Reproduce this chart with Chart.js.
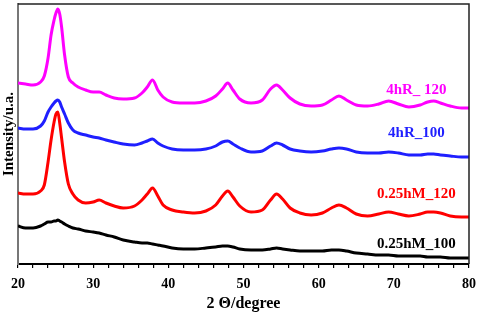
<!DOCTYPE html>
<html>
<head>
<meta charset="utf-8">
<script src="https://cdn.jsdelivr.net/npm/chart.js@4"></script>
<style>
  html, body { margin: 0; padding: 0; background: #fff; }
  #xrd { display: block; }
</style>
</head>
<body>
<canvas id="xrd" width="484" height="315"></canvas>
<script>
// 2-theta positions shared by all four patterns
const twoTheta = [20, 21, 22, 23, 23.5, 24, 24.4, 24.8, 25.05, 25.3, 25.55, 25.8, 26.2, 26.7, 27.3, 28, 29, 30, 30.8, 31.7, 32.8, 34,
  35.5, 36.5, 37.2, 37.9, 38.6, 39.3, 40.5, 42, 43.5, 45, 46.3, 47.2, 47.9, 48.6, 49.5, 51,
  52.5, 53.6, 54.4, 55.2, 56.2, 57.5, 59, 60.5, 61.7, 62.7, 63.7, 65, 66.5, 68, 69.3, 70.6, 72, 73.5, 74.5, 75.3, 76.2, 77.5, 79, 80];

// intensities (arbitrary units, stacked with offsets as in the figure)
const r120 = [181, 180, 179, 182, 188, 206, 229, 244, 251, 255, 250, 237, 209, 187, 181, 177, 174, 172, 172, 169, 166, 165,
  166, 171, 177, 184, 174, 167, 162, 161, 161, 163, 168, 175, 181, 174, 165, 161,
  164, 175, 179, 174, 166, 160, 158, 159, 164, 168, 164, 159, 158, 160, 163, 160, 157, 159, 162, 163, 161, 158, 156, 156];
const r100 = [136, 135, 135, 138, 143, 152, 157, 161, 163, 164, 162, 157, 150, 141, 134, 131, 129, 127, 126, 124, 122, 120,
  119, 121, 123, 125, 121, 118, 115, 114, 114, 115, 118, 122, 123, 120, 116, 112,
  113, 118, 121, 119, 115, 113, 112, 113, 115, 116, 115, 112, 111, 111, 112, 111, 109, 109, 110, 110, 109, 108, 107, 107];
const m120 = [71, 70, 70, 73, 79, 102, 124, 142, 150, 152, 141, 126, 102, 80, 70, 64, 61, 62, 64, 61, 58, 56,
  58, 64, 70, 76, 68, 59, 54, 52, 51, 53, 59, 68, 73, 67, 58, 52,
  54, 64, 70, 65, 56, 51, 49, 51, 56, 59, 56, 50, 48, 50, 52, 50, 48, 50, 52, 52, 51, 48, 47, 47];
const m100 = [38, 36, 36, 38, 40, 42, 42, 43, 43, 44, 43, 42, 40, 38, 36, 35, 33, 32, 31, 29, 27, 24,
  22, 21, 21, 20, 19, 18, 16, 15, 15, 16, 17, 18, 18, 17, 15, 14,
  14, 15, 16, 15, 14, 13, 13, 13, 14, 14, 13, 11, 10, 9, 9, 8, 8, 8, 7, 7, 7, 6, 6, 6];

const seriesNames = ['4hR_ 120', '4hR_100', '0.25hM_120', '0.25hM_100'];
const seriesColors = ['#ff00ff', '#1f1fff', '#ff0000', '#000000'];
const seriesValues = [r120, r100, m120, m100];

// where each curve label sits, in data units (2theta, intensity)
const labelAnchors = [[73, 174], [73, 131], [73, 70], [73, 20]];

const serif = "'Liberation Serif', 'Times New Roman', serif";

// draws the top/right frame and the in-plot labels
const framePlugin = {
    id: 'frameAndLabels',
    afterDatasetsDraw(chart) {
        const { ctx, chartArea, scales } = chart;
        ctx.save();
        ctx.strokeStyle = '#222';
        ctx.lineWidth = 1.5;
        ctx.beginPath();
        ctx.moveTo(chartArea.left, chartArea.top);
        ctx.lineTo(chartArea.right, chartArea.top);
        ctx.lineTo(chartArea.right, chartArea.bottom);
        ctx.stroke();

        ctx.font = 'bold 15px ' + serif;
        ctx.textAlign = 'center';
        ctx.textBaseline = 'middle';
        seriesNames.forEach((name, i) => {
            ctx.fillStyle = seriesColors[i];
            const x = scales.x.getPixelForValue(labelAnchors[i][0]);
            const y = scales.y.getPixelForValue(labelAnchors[i][1]);
            ctx.fillText(name, x, y);
        });
        ctx.restore();
    }
};

const datasets = seriesValues.map((vals, i) => ({
    label: seriesNames[i],
    data: vals.map((v, j) => ({ x: twoTheta[j], y: v })),
    borderColor: seriesColors[i],
    borderWidth: 3,
    pointRadius: 0,
    fill: false,
    cubicInterpolationMode: 'monotone'
}));

new Chart(document.getElementById('xrd').getContext('2d'), {
    type: 'line',
    data: { datasets: datasets },
    options: {
        responsive: false,
        animation: false,
        devicePixelRatio: 1,
        layout: { padding: { top: 4, right: 11, left: 0, bottom: 0 } },
        plugins: {
            legend: { display: false },
            tooltip: { enabled: false }
        },
        scales: {
            x: {
                type: 'linear',
                min: 20,
                max: 80,
                afterFit: (scale) => { scale.height = 51; },
                ticks: {
                    stepSize: 2,
                    autoSkip: false,
                    maxRotation: 0,
                    padding: 8,
                    color: '#000',
                    font: { family: serif, size: 14, weight: 'bold' },
                    callback: (v) => (v % 10 === 0 ? String(v) : '')
                },
                grid: {
                    display: true,
                    drawOnChartArea: false,
                    drawTicks: true,
                    tickLength: 4,
                    color: '#000',
                    lineWidth: 1.2
                },
                border: { display: true, color: '#000', width: 2 },
                title: {
                    display: true,
                    text: '2 Θ/degree',
                    color: '#000',
                    font: { family: serif, size: 16, weight: 'bold' },
                    padding: { top: 0, bottom: 2 }
                }
            },
            y: {
                min: 0,
                max: 260,
                afterFit: (scale) => { scale.width = 18; },
                ticks: { display: false },
                grid: { display: false },
                border: { display: true, color: '#777', width: 2 },
                title: {
                    display: true,
                    text: 'Intensity/u.a.',
                    color: '#000',
                    font: { family: serif, size: 15, weight: 'bold' },
                    padding: 0
                }
            }
        }
    },
    plugins: [framePlugin]
});
</script>
</body>
</html>
